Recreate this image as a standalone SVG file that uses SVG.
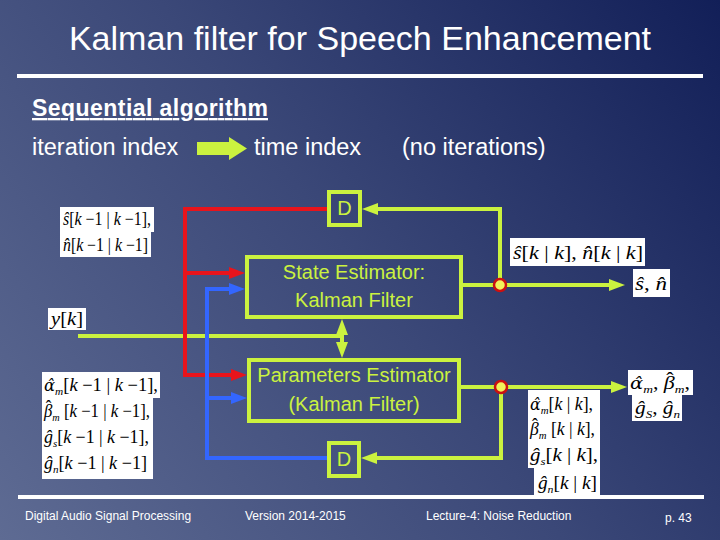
<svg xmlns="http://www.w3.org/2000/svg" width="720" height="540" viewBox="0 0 720 540">
<defs>
<linearGradient id="bg" x1="0" y1="540" x2="720" y2="0" gradientUnits="userSpaceOnUse">
<stop offset="0" stop-color="#5e6b93"/>
<stop offset="0.5" stop-color="#3b4878"/>
<stop offset="1" stop-color="#121f58"/>
</linearGradient>
<marker id="aL" markerWidth="16" markerHeight="12" refX="8" refY="6" orient="auto-start-reverse" markerUnits="userSpaceOnUse"><path d="M0,0 L16,6 L0,12 Z" fill="#cbf23f"/></marker>
<marker id="aR" markerWidth="16" markerHeight="12" refX="8" refY="6" orient="auto" markerUnits="userSpaceOnUse"><path d="M0,0 L16,6 L0,12 Z" fill="#e8141c"/></marker>
<marker id="aB" markerWidth="16" markerHeight="12" refX="8" refY="6" orient="auto" markerUnits="userSpaceOnUse"><path d="M0,0 L16,6 L0,12 Z" fill="#3366ff"/></marker>
<style>
.sans{font-family:"Liberation Sans",Arial,sans-serif}
.wt{fill:#ffffff}
.bx{fill:none;stroke:#cbf23f;stroke-width:4}
.bt{font-family:"Liberation Sans",Arial,sans-serif;font-size:20px;fill:#cbf23f;text-anchor:middle}
.ln{fill:none;stroke:#cbf23f;stroke-width:4}
.red{fill:none;stroke:#e8141c;stroke-width:4}
.blue{fill:none;stroke:#3366ff;stroke-width:4}
.wb{fill:#ffffff}
.m{font-family:"Liberation Serif","Times New Roman",serif;font-size:18px;font-style:italic;fill:#000}
.r{font-style:normal}
.g{font-family:"DejaVu Serif",serif;font-size:16px}
.sub{font-size:11px}
.jn{fill:#f2f25a;stroke:#cc1010;stroke-width:2.5}
.ft{font-family:"Liberation Sans",Arial,sans-serif;font-size:12px;fill:#ffffff}
</style>
</defs>
<rect x="0" y="0" width="720" height="540" fill="url(#bg)"/>

<text class="sans wt" x="360" y="50" font-size="34" text-anchor="middle">Kalman filter for Speech Enhancement</text>
<line x1="17" y1="76" x2="703" y2="76" stroke="#fff" stroke-width="4"/>
<text class="sans wt" x="32" y="116" font-size="23" font-weight="bold" text-decoration="underline" textLength="236">Sequential algorithm</text>
<text class="sans wt" x="32" y="155" font-size="23.5">iteration index</text>
<polygon points="197,142 229,142 229,137 247,148.5 229,160 229,155 197,155" fill="#cbf23f"/>
<text class="sans wt" x="254" y="155" font-size="23.5">time index</text>
<text class="sans wt" x="402" y="155" font-size="23.5">(no iterations)</text>

<g id="connectors">
<path class="ln" d="M78 336 H342"/>
<path class="ln" d="M342 327 V350" marker-start="url(#aL)" marker-end="url(#aL)"/>
<path class="ln" d="M463 285 H617" marker-end="url(#aL)"/>
<path class="ln" d="M500 285 V209 H370" marker-end="url(#aL)"/>
<path class="ln" d="M461 387 H619" marker-end="url(#aL)"/>
<path class="ln" d="M501 387 V458 H369" marker-end="url(#aL)"/>
<path class="red" d="M327 209 H185 V375 H239" marker-end="url(#aR)"/>
<path class="red" d="M185 273 H237" marker-end="url(#aR)"/>
<path class="blue" d="M327 458 H207 V289 H237" marker-end="url(#aB)"/>
<path class="blue" d="M207 398 H239" marker-end="url(#aB)"/>
</g>

<g id="state-estimator">
<rect class="bx" x="247" y="257" width="214" height="60"/>
<text class="bt" x="354" y="279">State Estimator:</text>
<text class="bt" x="354" y="307">Kalman Filter</text>
</g>
<g id="parameters-estimator">
<rect class="bx" x="249" y="360" width="210" height="61"/>
<text class="bt" x="354" y="382">Parameters Estimator</text>
<text class="bt" x="354" y="411">(Kalman Filter)</text>
</g>
<g id="delay-top">
<rect class="bx" x="329" y="192" width="31" height="33"/>
<text class="bt" x="344.5" y="215">D</text>
</g>
<g id="delay-bottom">
<rect class="bx" x="329" y="443" width="30" height="33"/>
<text class="bt" x="344" y="466">D</text>
</g>
<g id="junction-state"><circle class="jn" cx="500" cy="285" r="6"/></g>
<g id="junction-param"><circle class="jn" cx="501" cy="387" r="6"/></g>

<g id="label-prev-state">
<rect class="wb" x="60" y="207" width="94" height="25"/>
<rect class="wb" x="60" y="232" width="91" height="25"/>
<text class="m" x="63" y="225" textLength="88" lengthAdjust="spacingAndGlyphs">ŝ<tspan class="r">[</tspan>k<tspan class="r"> −1 | </tspan>k<tspan class="r"> −1],</tspan></text>
<text class="m" x="63" y="251" textLength="85" lengthAdjust="spacingAndGlyphs">n̂<tspan class="r">[</tspan>k<tspan class="r"> −1 | </tspan>k<tspan class="r"> −1]</tspan></text>
</g>
<g id="label-y">
<rect class="wb" x="48" y="308" width="38" height="22"/>
<text class="m" x="51" y="325" textLength="32" lengthAdjust="spacingAndGlyphs">y<tspan class="r">[</tspan>k<tspan class="r">]</tspan></text>
</g>
<g id="label-cur-state">
<rect class="wb" x="510" y="238" width="135" height="28"/>
<text class="m" x="513" y="259" font-size="20" textLength="130" lengthAdjust="spacingAndGlyphs">ŝ<tspan class="r">[</tspan>k<tspan class="r"> | </tspan>k<tspan class="r">], </tspan>n̂<tspan class="r">[</tspan>k<tspan class="r"> | </tspan>k<tspan class="r">]</tspan></text>
</g>
<g id="label-out-state">
<rect class="wb" x="633" y="269" width="37" height="28"/>
<text class="m" x="635" y="290" font-size="20" textLength="32" lengthAdjust="spacingAndGlyphs">ŝ<tspan class="r">, </tspan>n̂</text>
</g>
<g id="label-prev-params">
<rect class="wb" x="42" y="372" width="118" height="26"/>
<rect class="wb" x="42" y="398" width="111" height="81"/>
<text class="m" x="44" y="391" textLength="114" lengthAdjust="spacingAndGlyphs"><tspan class="g">α̂</tspan><tspan class="sub" baseline-shift="-4">m</tspan><tspan class="r">[</tspan>k<tspan class="r"> −1 | </tspan>k<tspan class="r"> −1],</tspan></text>
<text class="m" x="44" y="417" textLength="106" lengthAdjust="spacingAndGlyphs">β<tspan class="r" dx="-7" dy="-4">ˆ</tspan><tspan class="sub" dx="1" dy="8">m</tspan><tspan class="r" dy="-4"> [</tspan>k<tspan class="r"> −1 | </tspan>k<tspan class="r"> −1],</tspan></text>
<text class="m" x="44" y="443" textLength="105" lengthAdjust="spacingAndGlyphs">ĝ<tspan class="sub" baseline-shift="-4">s</tspan><tspan class="r">[</tspan>k<tspan class="r"> −1 | </tspan>k<tspan class="r"> −1],</tspan></text>
<text class="m" x="44" y="469" textLength="103" lengthAdjust="spacingAndGlyphs">ĝ<tspan class="sub" baseline-shift="-4">n</tspan><tspan class="r">[</tspan>k<tspan class="r"> −1 | </tspan>k<tspan class="r"> −1]</tspan></text>
</g>
<g id="label-out-params">
<rect class="wb" x="628" y="370" width="65" height="25"/>
<rect class="wb" x="632" y="395" width="50" height="26"/>
<text class="m" x="630" y="389" textLength="60" lengthAdjust="spacingAndGlyphs"><tspan class="g">α̂</tspan><tspan class="sub" baseline-shift="-4">m</tspan><tspan class="r">, </tspan>β<tspan class="r" dx="-7" dy="-4">ˆ</tspan><tspan class="sub" dx="1" dy="8">m</tspan><tspan class="r" dy="-4">,</tspan></text>
<text class="m" x="635" y="414" textLength="45" lengthAdjust="spacingAndGlyphs">ĝ<tspan class="sub" baseline-shift="-4">S</tspan><tspan class="r">, </tspan>ĝ<tspan class="sub" baseline-shift="-4">n</tspan></text>
</g>
<g id="label-cur-params">
<rect class="wb" x="528" y="390" width="72" height="78"/>
<rect class="wb" x="534" y="468" width="66" height="28"/>
<text class="m" x="530" y="410" textLength="63" lengthAdjust="spacingAndGlyphs"><tspan class="g">α̂</tspan><tspan class="sub" baseline-shift="-4">m</tspan><tspan class="r">[</tspan>k<tspan class="r"> | </tspan>k<tspan class="r">],</tspan></text>
<text class="m" x="530" y="435" textLength="65" lengthAdjust="spacingAndGlyphs">β<tspan class="r" dx="-7" dy="-4">ˆ</tspan><tspan class="sub" dx="1" dy="8">m</tspan><tspan class="r" dy="-4"> [</tspan>k<tspan class="r"> | </tspan>k<tspan class="r">],</tspan></text>
<text class="m" x="530" y="461" textLength="68" lengthAdjust="spacingAndGlyphs">ĝ<tspan class="sub" baseline-shift="-4">s</tspan><tspan class="r">[</tspan>k<tspan class="r"> | </tspan>k<tspan class="r">],</tspan></text>
<text class="m" x="538" y="489" textLength="59" lengthAdjust="spacingAndGlyphs">ĝ<tspan class="sub" baseline-shift="-4">n</tspan><tspan class="r">[</tspan>k<tspan class="r"> | </tspan>k<tspan class="r">]</tspan></text>
</g>

<line x1="18" y1="497" x2="704" y2="497" stroke="#fff" stroke-width="4"/>
<text class="ft" x="25" y="520">Digital Audio Signal Processing</text>
<text class="ft" x="245" y="520">Version 2014-2015</text>
<text class="ft" x="426" y="520">Lecture-4: Noise Reduction</text>
<text class="ft" x="665" y="522">p. 43</text>
</svg>
